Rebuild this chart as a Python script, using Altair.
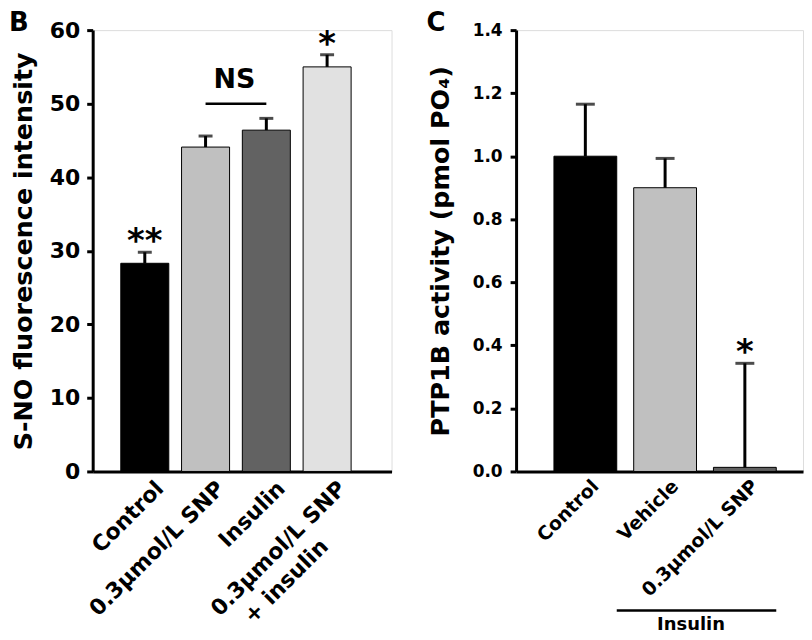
import altair as alt
import pandas as pd

FONT = "DejaVu Sans"

# ---------------- Panel B data ----------------
b_groups = ["Control", "0.3μmol/L SNP", "Insulin", "0.3μmol/L SNP\n+ insulin"]
b_values = [28.3, 44.1, 46.4, 55.0]
b_errors = [1.5, 1.5, 1.6, 1.65]
b_marks = ["**", "", "", "*"]
b_ticks = [0, 10, 20, 30, 40, 50, 60]
b_ns_pair = ["0.3μmol/L SNP", "Insulin"]
b_ns_level = 50.0
b_ns_text_level = 53.2

# ---------------- Panel C data ----------------
c_groups = ["Control", "Vehicle", "0.3μmol/L SNP"]
c_values = [1.0, 0.9, 0.013]
c_errors = [0.165, 0.093, 0.33]
c_marks = ["", "", "*"]
c_ticks = [0.0, 0.2, 0.4, 0.6, 0.8, 1.0, 1.2, 1.4]
# bracket drawn from the gap after Control to the end of the SNP bar
c_bracket = ["Control", "0.3μmol/L SNP"]
c_bracket_label = "Insulin"

b_palette = ["#000000", "#c0c0c0", "#626262", "#e1e1e1"]
c_palette = ["#000000", "#c0c0c0", "#606060"]

H = 443

# second line of a two-line label sits further back along the rotated text
PAD = "\u00a0" * 7 + "\u200b"
LABEL_EXPR = (
    "indexof(datum.label, '\\n') >= 0 ? "
    "[split(datum.label, '\\n')[0], split(datum.label, '\\n')[1] + '" + PAD + "']"
    " : datum.label"
)


def make_df(groups, values, errors, marks):
    return pd.DataFrame({
        "group": groups,
        "value": values,
        "upper": [v + e for v, e in zip(values, errors)],
        "mark": marks,
    })


def panel(df, groups, palette, width, xscale, ydomain, yticks, yfmt, ytitle,
          ylabsize, ylabpad, titlex, xlabsize, xlaboffset, xlabpad, capsize,
          letter, letterx):
    x_axis = alt.Axis(title=None, ticks=False, domainWidth=3, domainColor="black",
                      labelAngle=315, labelAlign="right", labelBaseline="top",
                      labelFont=FONT, labelFontSize=xlabsize, labelFontWeight="bold",
                      labelColor="black", labelPadding=xlabpad, labelOffset=xlaboffset,
                      labelExpr=LABEL_EXPR, labelLineHeight=xlabsize * 1.3,
                      labelLimit=400, labelOverlap=False, labelBound=False)
    y_axis = alt.Axis(values=yticks, format=yfmt, title=ytitle, grid=False,
                      titleFont=FONT, titleFontSize=25.5, titleFontWeight="bold",
                      titleColor="black", titleAngle=270, titleBaseline="bottom",
                      titleAlign="center", titleX=titlex, titleY=H / 2,
                      labelFont=FONT, labelFontSize=ylabsize, labelFontWeight="bold",
                      labelColor="black", labelPadding=ylabpad, tickSize=6, tickWidth=3,
                      tickColor="black", domainWidth=3, domainColor="black")
    xs = alt.Scale(domain=groups, **xscale)
    ys = alt.Scale(domain=ydomain, nice=False, zero=True)
    base = alt.Chart(df)
    bars = base.mark_bar(stroke="black", strokeWidth=1).encode(
        x=alt.X("group:N", sort=groups, scale=xs, axis=x_axis),
        y=alt.Y("value:Q", scale=ys, axis=y_axis),
        color=alt.Color("group:N", scale=alt.Scale(domain=groups, range=palette), legend=None),
    )
    stems = base.mark_rule(color="black", strokeWidth=3).encode(
        x=alt.X("group:N", sort=groups), y="value:Q", y2="upper:Q")
    caps = base.mark_tick(color="black", thickness=3, size=capsize).encode(
        x=alt.X("group:N", sort=groups), y="upper:Q")
    stars = base.mark_text(font=FONT, fontSize=34, fontWeight="bold", baseline="alphabetic",
                           dy=0, color="black").encode(
        x=alt.X("group:N", sort=groups), y="upper:Q", text="mark:N")
    lab = alt.Chart(pd.DataFrame({"t": [letter]})).mark_text(
        font=FONT, fontSize=26, fontWeight="bold", align="left", baseline="top",
        color="black").encode(x=alt.value(letterx), y=alt.value(-20.5), text="t:N")
    return [bars, stems, caps, stars, lab]


df_b = make_df(b_groups, b_values, b_errors, b_marks)
df_c = make_df(c_groups, c_values, c_errors, c_marks)

layers_b = panel(df_b, b_groups, b_palette, 300,
                 dict(paddingInner=0.21, paddingOuter=0.564, align=0.41),
                 [0, 60], b_ticks, "d", "S-NO fluorescence intensity",
                 22, 7, -56, 22, 8, 6, 14, "B", -84)

ns_df = pd.DataFrame({"start": [b_ns_pair[0]], "end": [b_ns_pair[1]],
                      "level": [b_ns_level], "tlevel": [b_ns_text_level], "label": ["NS"]})
ns_rule = alt.Chart(ns_df).mark_rule(color="black", strokeWidth=2.5).encode(
    x=alt.X("start:N", sort=b_groups), x2="end:N", y="level:Q")
ns_text = alt.Chart(ns_df).mark_text(font=FONT, fontSize=27, fontWeight="bold",
                                     baseline="middle", dx=29, color="black").encode(
    x=alt.X("start:N", sort=b_groups), y="tlevel:Q", text="label:N")

chart_b = alt.layer(*layers_b, ns_rule, ns_text).properties(width=300, height=H)

layers_c = panel(df_c, c_groups, c_palette, 288,
                 dict(paddingInner=0.2125, paddingOuter=0.405, align=0.586),
                 [0, 1.4], c_ticks, ".1f", "PTP1B activity (pmol PO₄)",
                 17, 8, -63, 19, 4, 5, 19, "C", -90)

br_df = pd.DataFrame({"start": [c_bracket[0]], "end": [c_bracket[1]], "label": [c_bracket_label]})
br_rule = alt.Chart(br_df).mark_rule(color="black", strokeWidth=2.5).encode(
    x=alt.X("start:N", sort=c_groups, bandPosition=1),
    x2=alt.X2("end:N", bandPosition=1),
    y=alt.value(582.5))
br_text = alt.Chart(br_df).mark_text(font=FONT, fontSize=18, fontWeight="bold",
                                     baseline="top", dx=-54, color="black").encode(
    x=alt.X("end:N", sort=c_groups), y=alt.value(588), text="label:N")

chart_c = alt.layer(*layers_c, br_rule, br_text).properties(width=288, height=H)

chart = alt.hconcat(chart_b, chart_c, spacing=33).resolve_scale(
    color="independent"
).properties(
    padding=0
).configure_view(stroke=None).configure(font=FONT)

chart.save("out.html", embed_options={"renderer": "svg", "actions": False})
